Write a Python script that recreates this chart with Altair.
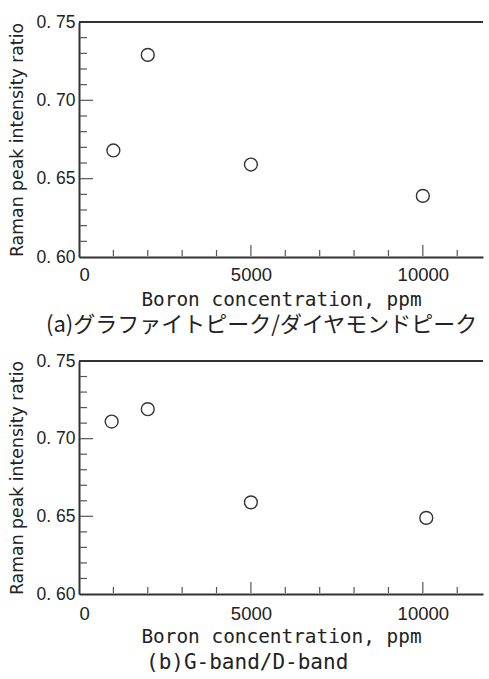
import altair as alt
import pandas as pd

# ---- data ----
boron_a = [1000, 2000, 5000, 10000]
ratio_a = [0.668, 0.729, 0.659, 0.639]

boron_b = [950, 2000, 5000, 10100]
ratio_b = [0.711, 0.719, 0.659, 0.649]

x_label_values = [0, 5000, 10000]
x_minor_ticks = [1000, 2000, 3000, 4000, 6000, 7000, 8000, 9000, 11000]
x_major_ticks = [5000, 10000]
y_label_values = [0.60, 0.65, 0.70, 0.75]
y_minor_ticks = [0.61, 0.62, 0.63, 0.64, 0.66, 0.67, 0.68, 0.69,
                 0.71, 0.72, 0.73, 0.74]
y_major_ticks = [0.65, 0.70]

x_title = "Boron concentration, ppm"
y_title = "Raman peak intensity ratio"
caption_a = "(a)グラファイトピーク/ダイヤモンドピーク"
caption_b = "(b)G-band/D-band"

X_MAX = 11750
INK = "#222222"
FRAME = "#333333"
TICK = "#555555"
LABEL_FONT = "Liberation Sans"
MONO = "DejaVu Sans Mono"
W = 404


def panel(xs, ys, H, caption, cap_font, cap_size, cap_dx, cap_dy,
          xlabel_pad, xtitle_pad):
    df = pd.DataFrame({"boron": xs, "ratio": ys})
    xsc = alt.Scale(domain=[0, X_MAX], nice=False, zero=False)
    ysc = alt.Scale(domain=[0.60, 0.75], nice=False, zero=False)

    xaxis = alt.Axis(
        orient="bottom", values=x_label_values, format="d", title=x_title,
        ticks=False, tickSize=0, grid=False,
        domainColor=FRAME, domainWidth=2,
        labelFont=LABEL_FONT, labelFontSize=18.5, labelColor=INK,
        labelPadding=xlabel_pad, labelFlush=True,
        titleFont=MONO, titleFontSize=19.4, titleFontWeight="normal",
        titleColor=INK, titlePadding=xtitle_pad)
    yaxis = alt.Axis(
        orient="left", values=y_label_values, title=y_title,
        labelExpr="replace(format(datum.value, '.2f'), '.', '. ')",
        ticks=False, tickSize=0, grid=False,
        domainColor=FRAME, domainWidth=2,
        labelFont=LABEL_FONT, labelFontSize=17.5, labelColor=INK, labelPadding=4,
        titleFont="DejaVu Sans", titleFontSize=17.3, titleFontWeight="normal",
        titleColor=INK, titlePadding=10)

    pts = alt.Chart(df).mark_point(
        shape="circle", filled=False, size=165, color=FRAME, strokeWidth=1.4, opacity=1
    ).encode(
        x=alt.X("boron:Q", scale=xsc, axis=xaxis),
        y=alt.Y("ratio:Q", scale=ysc, axis=yaxis),
    )

    # inward minor / major ticks as short rules placed through the scales
    def yticks(values, length):
        return alt.Chart(pd.DataFrame({"ytick": values})).mark_rule(
            color=TICK, strokeWidth=1.2, opacity=1).encode(
            y=alt.Y("ytick:Q", scale=ysc, axis=None),
            x=alt.value(1), x2=alt.value(length))

    def xticks(values, length):
        return alt.Chart(pd.DataFrame({"xtick": values})).mark_rule(
            color=TICK, strokeWidth=1.2, opacity=1).encode(
            x=alt.X("xtick:Q", scale=xsc, axis=None),
            y=alt.value(H - 1), y2=alt.value(H - length))

    frame_df = pd.DataFrame({"fx0": [0], "fx1": [X_MAX], "fy": [0.75]})
    top = alt.Chart(frame_df).mark_rule(color=FRAME, strokeWidth=2).encode(
        x=alt.X("fx0:Q", scale=xsc, axis=None),
        x2="fx1:Q",
        y=alt.Y("fy:Q", scale=ysc, axis=None),
    )

    return alt.layer(
        pts,
        yticks(y_minor_ticks, 8), yticks(y_major_ticks, 14),
        xticks(x_minor_ticks, 7), xticks(x_major_ticks, 12),
        top,
    ).resolve_axis(x="independent", y="independent").properties(
        width=W, height=H,
        title=alt.TitleParams(
            text=caption, orient="bottom", anchor="start", frame="group",
            dx=cap_dx, dy=cap_dy, offset=4, font=cap_font, fontSize=cap_size,
            fontWeight="normal", color=INK),
    )


pa = panel(boron_a, ratio_a, 235, caption_a, "Noto Sans CJK JP", 22,
           -33, 2, 8, 7)
pb = panel(boron_b, ratio_b, 233, caption_b, MONO, 21,
           67, 2, 10, 5)

chart = alt.vconcat(pa, pb, spacing=16).properties(
    padding={"left": 8, "top": 13, "right": 0, "bottom": 0},
    background="white",
).configure_view(stroke=None)

chart.save("out.html", embed_options={"renderer": "svg", "actions": False})
